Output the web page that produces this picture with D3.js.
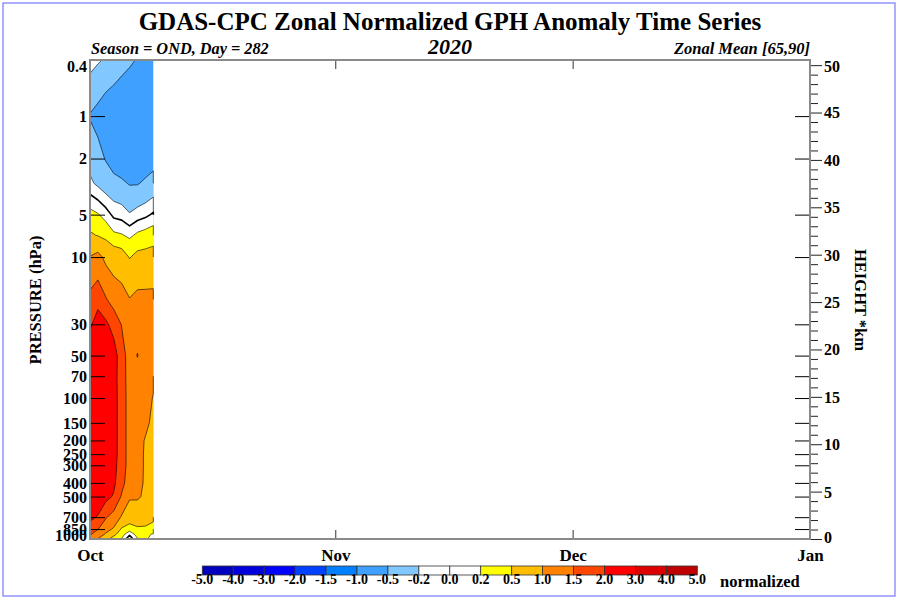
<!DOCTYPE html>
<html><head><meta charset="utf-8">
<script src="https://cdn.jsdelivr.net/npm/d3@7"></script>
<style>
body{margin:0;background:#fff}
svg{display:block}
text{font-family:"Liberation Serif","Times New Roman",serif;font-weight:bold;fill:#000}
</style>
</head><body>
<svg id="c" width="900" height="600"></svg>
<script>
// ---------------- DATA ----------------
// pressure levels of the grid (hPa), bottom to top
const pressureLevels = [1000,925,850,700,500,400,300,250,200,150,100,70,50,30,20,10,7,5,3,2,1,0.4];
// day of season (1 = Oct 1) for each analysed column
const dayIndex = [1,2,3,4,5,6,7,8,9];
// normalized anomaly per day, listed at pressureLevels (1000 -> 0.4 hPa)
const day1 = [1.4,1.55,1.7,2.15,2.6,2.6,2.65,2.65,2.65,2.65,2.6,2.55,2.4,1.9,1.64,1.02,0.55,0.28,-0.15,-0.3,-0.52,-0.1];
const day2 = [0.98,1.25,1.52,1.95,2.4,2.5,2.55,2.55,2.55,2.55,2.55,2.55,2.5,2.3,1.8,1.15,0.48,0.22,-0.25,-0.4,-0.6,-0.17];
const day3 = [0.6,0.95,1.15,1.55,2.15,2.4,2.4,2.4,2.4,2.4,2.4,2.4,2.35,2.1,1.54,0.88,0.4,0.1,-0.35,-0.52,-0.7,-0.23];
const day4 = [0.35,0.6,0.95,1.3,1.95,2.1,2.15,2.2,2.2,2.2,2.2,2.2,2.25,1.8,1.3,0.75,0.25,-0.05,-0.4,-0.65,-0.75,-0.3];
const day5 = [0.18,0.3,0.45,0.95,1.45,1.65,1.75,1.75,1.75,1.75,1.75,1.72,1.7,1.48,1.2,0.68,0.22,-0.08,-0.45,-0.7,-0.8,-0.38];
const day6 = [-0.15,0.05,0.3,0.75,1.05,1.25,1.3,1.3,1.3,1.3,1.3,1.3,1.3,1.2,1.02,0.48,0.15,-0.18,-0.52,-0.72,-0.82,-0.45];
const day7 = [0.18,0.3,0.45,0.7,1.06,1.12,1.15,1.15,1.15,1.2,1.25,1.28,1.52,1.25,1.12,0.6,0.25,-0.1,-0.52,-0.72,-0.82,-0.52];
const day8 = [0.22,0.25,0.45,0.65,0.92,0.95,0.95,0.95,0.97,1.1,1.15,1.2,1.25,1.2,1.12,0.62,0.3,-0.05,-0.45,-0.68,-0.8,-0.6];
const day9 = [0.15,0.18,0.35,0.6,0.75,0.8,0.85,0.85,0.85,0.9,0.98,1.08,1.15,1.15,1.12,0.65,0.35,0.03,-0.38,-0.62,-0.75,-0.65];
const dayColumns = [day1,day2,day3,day4,day5,day6,day7,day8,day9];

// contour levels and colours
const levelBounds = [-5,-4,-3,-2,-1.5,-1,-0.5,-0.2,0,0.2,0.5,1,1.5,2,3,4,5];
const levelLabels = ["-5.0","-4.0","-3.0","-2.0","-1.5","-1.0","-0.5","-0.2","0.0","0.2","0.5","1.0","1.5","2.0","3.0","4.0","5.0"];
const bandColors = ["#0000be","#0000dc","#0000ff","#0040ff","#0080ff","#40a0ff","#80c8ff","#ffffff","#ffffff","#ffff00","#ffbe00","#ff8200","#ff4600","#ff0000","#dc0000","#be0000"];

// axes
const pressureTicks = [0.4,1,2,5,10,30,50,70,100,150,200,250,300,400,500,700,850,1000];
const heightTicks = d3.range(0,51,1);
const monthLabels = ["Oct","Nov","Dec","Jan"];
const monthDays = [1,32,62,92];

// ---------------- LAYOUT ----------------
const svg = d3.select("#c");
const L=90, R=810, T=60, B=539;
const x = d3.scaleLinear().domain([1,92]).range([L,R]);
const y = d3.scaleLog().domain([1000,0.4]).range([B,T]);
const scaleHeightKm = 6.46;
const h = d3.scaleLinear().domain([0, scaleHeightKm*Math.log(1000/0.4)]).range([B,T]);

// outer border
svg.append("rect").attr("x",3).attr("y",3).attr("width",892).attr("height",593)
  .attr("fill","#fff").attr("stroke","#7878ff").attr("stroke-width",1.2);

// ---------------- CONTOURS ----------------
const n = dayColumns.length, m = pressureLevels.length;
const values = new Array(n*m);
for (let j=0;j<m;j++) for (let i=0;i<n;i++) values[j*n+i] = dayColumns[i][j];
const vmin = d3.min(values);
let startBand = 0;
for (let k=0;k<levelBounds.length-1;k++) if (levelBounds[k] <= vmin) startBand = k;
const thresholds = levelBounds.slice(startBand, levelBounds.length-1);
const contours = d3.contours().size([n,m]).thresholds(thresholds)(values);

const clamp = (v,a,b)=>Math.max(a,Math.min(b,v));
function mapPt(p){
  const fx = clamp(p[0]-0.5,0,n-1);
  const fy = clamp(p[1]-0.5,0,m-1);
  const k = Math.min(Math.floor(fy), m-2), t = fy-k;
  const y0 = y(pressureLevels[k]), y1 = y(pressureLevels[k+1]);
  return [x(dayIndex[0]+fx), y0+(y1-y0)*t];
}
function fillPath(mp){
  let d="";
  mp.coordinates.forEach(poly=>poly.forEach(ring=>{
    ring.forEach((p,i)=>{const q=mapPt(p); d+=(i?"L":"M")+q[0].toFixed(2)+","+q[1].toFixed(2);});
    d+="Z";
  }));
  return d;
}
function onEdge(p,q){
  return (p[0]===0&&q[0]===0)||(p[0]===n&&q[0]===n)||(p[1]===0&&q[1]===0)||(p[1]===m&&q[1]===m);
}
function linePath(mp){
  let d="";
  mp.coordinates.forEach(poly=>poly.forEach(ring=>{
    let open=false;
    for (let i=0;i<ring.length-1;i++){
      const p=ring[i], q=ring[i+1];
      if (onEdge(p,q)){open=false;continue;}
      const a=mapPt(p), b=mapPt(q);
      if(!open){d+="M"+a[0].toFixed(2)+","+a[1].toFixed(2);open=true;}
      d+="L"+b[0].toFixed(2)+","+b[1].toFixed(2);
    }
  }));
  return d;
}
const gC = svg.append("g");
contours.forEach((c,i)=>{
  const band = levelBounds.indexOf(c.value);
  gC.append("path").attr("d",fillPath(c)).attr("fill",bandColors[band]).attr("fill-rule","evenodd");
});
contours.forEach((c,i)=>{
  if (i===0) return;
  gC.append("path").attr("d",linePath(c)).attr("fill","none").attr("stroke","#000")
    .attr("stroke-width", c.value===0?1.6:0.6).attr("stroke-linejoin","round");
});

// ---------------- AXES ----------------
const AX_FONT = 16;
// left pressure axis: inward ticks, labels outside
const gL = svg.append("g").attr("transform",`translate(${L},0)`)
  .call(d3.axisLeft(y).tickValues(pressureTicks).tickSizeInner(-15).tickSizeOuter(0).tickPadding(4)
    .tickFormat(d=>String(d)));
gL.select(".domain").remove();
gL.selectAll(".tick line").attr("stroke","#000").attr("stroke-width",1);
gL.selectAll(".tick text").attr("font-size",AX_FONT).attr("font-family","Liberation Serif").attr("font-weight","bold")
  .attr("x",-3).attr("dy","0.34em")
  .attr("y",d=>clamp(y(d),66,535)-y(d));

// right pressure ticks (inward)
const gR1 = svg.append("g").attr("transform",`translate(${R},0)`)
  .call(d3.axisRight(y).tickValues(pressureTicks.slice(0,-1)).tickSizeInner(-15).tickSizeOuter(0).tickFormat(""));
gR1.select(".domain").remove();
gR1.selectAll(".tick line").attr("stroke","#000");

// right height axis
const gR = svg.append("g").attr("transform",`translate(${R},0)`)
  .call(d3.axisRight(h).tickValues(heightTicks).tickSizeOuter(0).tickSizeInner(8).tickPadding(4)
    .tickFormat(d=>d%5===0?String(d):""));
gR.select(".domain").remove();
gR.selectAll(".tick line").attr("stroke","#222").attr("x2",d=>d%5===0?12:8);
gR.selectAll(".tick text").attr("font-size",AX_FONT).attr("font-family","Liberation Serif").attr("font-weight","bold")
  .attr("x",14).attr("dy","0.34em").attr("y",d=>clamp(h(d),66,537)-h(d));

// month ticks bottom and top
const gB = svg.append("g").attr("transform",`translate(0,${B})`)
  .call(d3.axisBottom(x).tickValues(monthDays).tickSizeInner(-9).tickSizeOuter(0).tickPadding(12)
    .tickFormat((d,i)=>monthLabels[i]));
gB.select(".domain").remove();
gB.selectAll(".tick line").attr("stroke","#333");
gB.selectAll(".tick text").attr("font-size",17).attr("font-family","Liberation Serif").attr("font-weight","bold")
  .attr("y",22).attr("dy",0);
const gT = svg.append("g").attr("transform",`translate(0,${T})`)
  .call(d3.axisTop(x).tickValues(monthDays.slice(1,3)).tickSizeInner(-9).tickSizeOuter(0).tickFormat(""));
gT.select(".domain").remove();
gT.selectAll(".tick line").attr("stroke","#333");

// frame
svg.append("rect").attr("x",L).attr("y",T).attr("width",R-L).attr("height",B-T)
  .attr("fill","none").attr("stroke","#8a8a8a").attr("stroke-width",2);

// ---------------- TEXT ----------------
svg.append("text").attr("x",450).attr("y",30).attr("text-anchor","middle").attr("font-size",25)
  .text("GDAS-CPC Zonal Normalized GPH Anomaly Time Series");
svg.append("text").attr("x",91).attr("y",54).attr("font-size",16.3).attr("font-style","italic")
  .text("Season = OND, Day = 282");
svg.append("text").attr("x",450).attr("y",54).attr("text-anchor","middle").attr("font-size",22).attr("font-style","italic")
  .text("2020");
svg.append("text").attr("x",810).attr("y",54).attr("text-anchor","end").attr("font-size",16.5).attr("font-style","italic")
  .text("Zonal Mean [65,90]");
svg.append("text").attr("transform","translate(41,300) rotate(-90)").attr("text-anchor","middle").attr("font-size",16.5)
  .text("PRESSURE (hPa)");
svg.append("text").attr("transform","translate(855,300) rotate(90)").attr("text-anchor","middle").attr("font-size",16.5)
  .text("HEIGHT *km");

// ---------------- COLORBAR ----------------
const cb = d3.scaleLinear().domain([0,bandColors.length]).range([202.3,697.3]);
const gCb = svg.append("g");
gCb.selectAll("rect").data(bandColors).join("rect")
  .attr("x",(d,i)=>cb(i)).attr("y",566).attr("width",cb(1)-cb(0)).attr("height",9)
  .attr("fill",d=>d).attr("stroke","#333").attr("stroke-width",0.8);
gCb.selectAll("text").data(levelLabels).join("text")
  .attr("x",(d,i)=>cb(i)).attr("y",584).attr("text-anchor","middle").attr("font-size",14).text(d=>d);
svg.append("text").attr("x",720).attr("y",587).attr("font-size",16.5).text("normalized");
</script>
</body></html>
